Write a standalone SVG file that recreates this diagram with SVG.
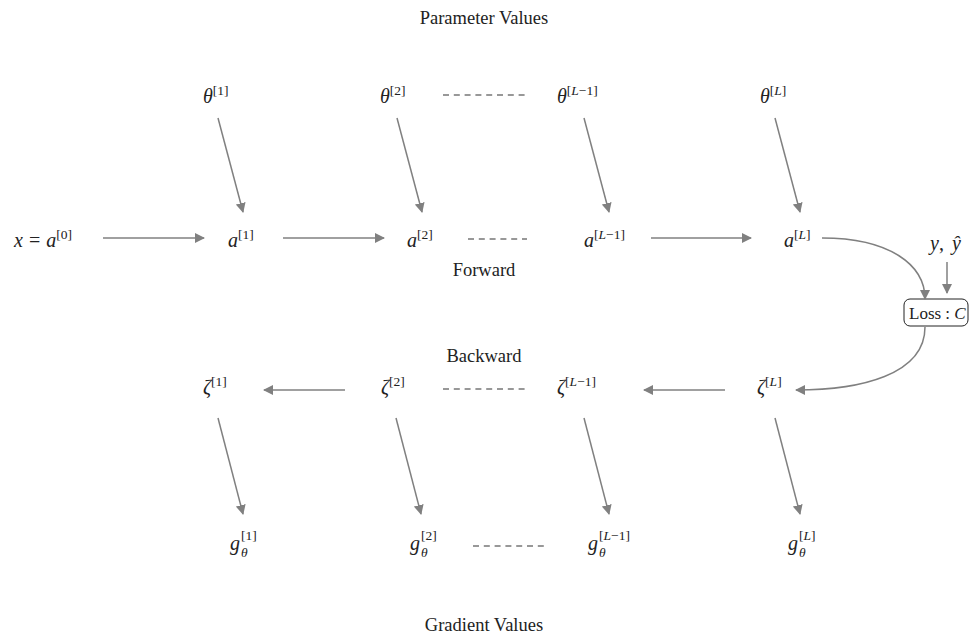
<svg xmlns="http://www.w3.org/2000/svg" width="970" height="637" viewBox="0 0 970 637">
<style>
text{font-family:"Liberation Serif","DejaVu Serif",serif;fill:#222;}
.lbl{font-size:18.5px;text-anchor:middle;}
.m{font-size:20px;font-style:italic;}
.s{font-size:13.5px;font-style:normal;}
.si{font-size:13.5px;font-style:italic;}
.c{stroke:#808080;stroke-width:1.5;fill:none;}
.d{stroke:#333;stroke-width:1.1;stroke-dasharray:6,4.8;fill:none;}
</style>
<defs>
<marker id="ah" viewBox="0 0 10 10" refX="9" refY="5" markerWidth="10" markerHeight="10" markerUnits="userSpaceOnUse" orient="auto">
<path d="M0,0 L10,5 L0,10 z" fill="#808080"/>
</marker>
</defs>
<text class="lbl" x="484" y="24">Parameter Values</text>
<text class="lbl" x="484" y="276">Forward</text>
<text class="lbl" x="484" y="362">Backward</text>
<text class="lbl" x="484" y="631">Gradient Values</text>

<g id="theta1"><text class="m" x="203" y="103">θ<tspan class="s" dy="-8">[1]</tspan></text></g>
<g id="theta2"><text class="m" x="380" y="103">θ<tspan class="s" dy="-8">[2]</tspan></text></g>
<g id="thetaL1"><text class="m" x="557" y="103">θ<tspan class="s" dy="-8">[</tspan><tspan class="si">L</tspan><tspan class="s">−1]</tspan></text></g>
<g id="thetaL"><text class="m" x="760" y="103">θ<tspan class="s" dy="-8">[</tspan><tspan class="si">L</tspan><tspan class="s">]</tspan></text></g>

<g id="a0"><text class="m" x="14" y="247">x<tspan font-style="normal" dx="6">=</tspan><tspan dx="6">a</tspan><tspan class="s" dy="-8">[0]</tspan></text></g>
<g id="a1"><text class="m" x="228" y="247">a<tspan class="s" dy="-8">[1]</tspan></text></g>
<g id="a2"><text class="m" x="407" y="247">a<tspan class="s" dy="-8">[2]</tspan></text></g>
<g id="aL1"><text class="m" x="584" y="247">a<tspan class="s" dy="-8">[</tspan><tspan class="si">L</tspan><tspan class="s">−1]</tspan></text></g>
<g id="aL"><text class="m" x="784" y="247">a<tspan class="s" dy="-8">[</tspan><tspan class="si">L</tspan><tspan class="s">]</tspan></text></g>

<g id="y"><text class="m" x="930" y="250">y<tspan font-style="normal">,</tspan><tspan dx="8">ŷ</tspan></text></g>
<g id="loss"><rect x="904" y="299" width="64" height="27" rx="6" ry="6" fill="#fff" stroke="#222" stroke-width="1"/><text x="909" y="319" style="font-size:17px">Loss : <tspan font-style="italic">C</tspan></text></g>

<g id="z1"><text class="m" x="203" y="394">ζ<tspan class="s" dy="-8">[1]</tspan></text></g>
<g id="z2"><text class="m" x="381" y="394">ζ<tspan class="s" dy="-8">[2]</tspan></text></g>
<g id="zL1"><text class="m" x="557" y="394">ζ<tspan class="s" dy="-8">[</tspan><tspan class="si">L</tspan><tspan class="s">−1]</tspan></text></g>
<g id="zL"><text class="m" x="757" y="394">ζ<tspan class="s" dy="-8">[</tspan><tspan class="si">L</tspan><tspan class="s">]</tspan></text></g>

<g id="g1"><text class="m" x="230" y="550">g</text><text class="s" x="241" y="540">[1]</text><text class="si" x="241" y="557">θ</text></g>
<g id="g2"><text class="m" x="410" y="550">g</text><text class="s" x="421" y="540">[2]</text><text class="si" x="421" y="557">θ</text></g>
<g id="gL1"><text class="m" x="588" y="550">g</text><text class="s" x="599" y="540">[<tspan class="si">L</tspan>−1]</text><text class="si" x="599" y="557">θ</text></g>
<g id="gL"><text class="m" x="788" y="550">g</text><text class="s" x="799" y="540">[<tspan class="si">L</tspan>]</text><text class="si" x="799" y="557">θ</text></g>

<g id="connectors">
<path class="c" d="M218,118 L243,212" marker-end="url(#ah)"/>
<path class="c" d="M397,118 L422,212" marker-end="url(#ah)"/>
<path class="c" d="M584,118 L609,212" marker-end="url(#ah)"/>
<path class="c" d="M775,118 L800,212" marker-end="url(#ah)"/>

<path class="c" d="M103,238 L204,238" marker-end="url(#ah)"/>
<path class="c" d="M283,238 L384,238" marker-end="url(#ah)"/>
<path class="c" d="M651,238 L751,238" marker-end="url(#ah)"/>
<path class="c" d="M822,238 C890,238 925,265 925,299" marker-end="url(#ah)"/>
<path class="c" d="M947,262 L947,293" marker-end="url(#ah)"/>
<path class="c" d="M925,327 C925,375 860,390 796,390" marker-end="url(#ah)"/>

<path class="c" d="M345,390 L264,390" marker-end="url(#ah)"/>
<path class="c" d="M725,390 L644,390" marker-end="url(#ah)"/>

<path class="c" d="M218,418 L243,514" marker-end="url(#ah)"/>
<path class="c" d="M396,418 L421,514" marker-end="url(#ah)"/>
<path class="c" d="M584,418 L609,514" marker-end="url(#ah)"/>
<path class="c" d="M775,418 L800,514" marker-end="url(#ah)"/>

<path class="d" d="M443,95 L527,95"/>
<path class="d" d="M468,239 L527,239"/>
<path class="d" d="M443,389 L527,389"/>
<path class="d" d="M473,546 L547,546"/>
</g>
</svg>
